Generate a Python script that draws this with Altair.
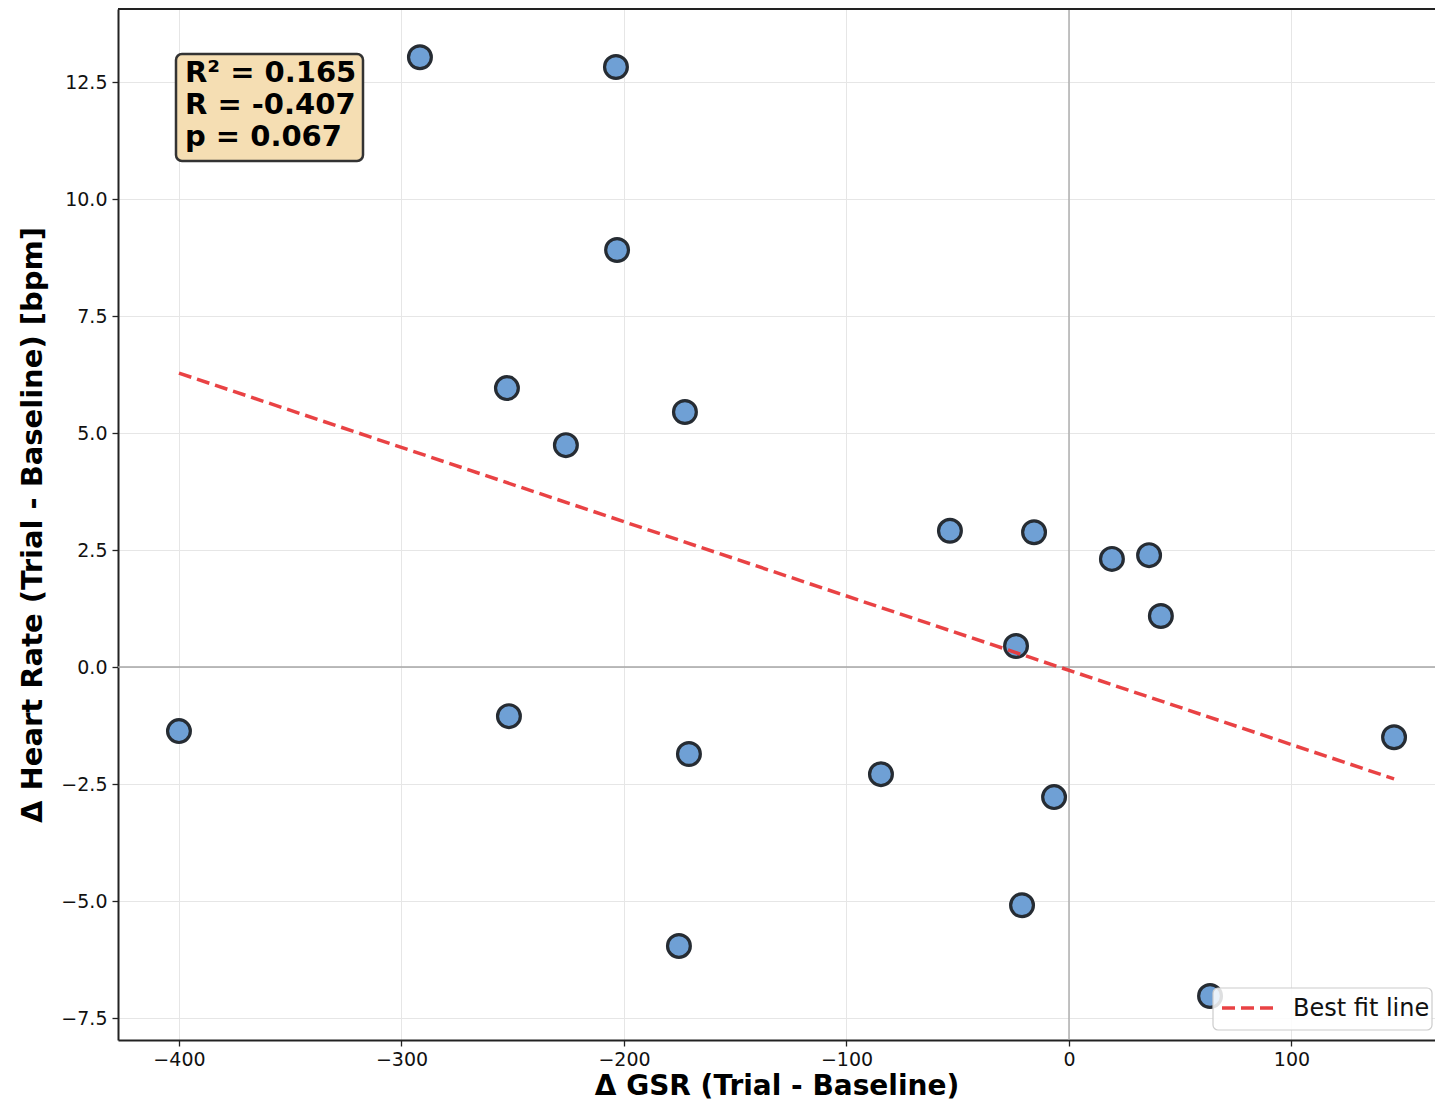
import altair as alt
import pandas as pd

# Data
gsr = [-400.0, -291.7, -203.6, -203.1, -252.6, -226.1, -172.6, -251.7, -170.8, -175.3,
       -84.5, -53.5, -15.7, -23.8, -6.7, -21.1, 19.3, 36.0, 41.3, 63.4, 146.1]
hr = [-1.37, 13.03, 12.82, 8.91, 5.96, 4.74, 5.45, -1.05, -1.86, -5.96,
      -2.29, 2.91, 2.88, 0.45, -2.78, -5.09, 2.31, 2.39, 1.09, -7.03, -1.50]
fit_x = [-400.0, 146.1]
fit_y = [6.28, -2.39]
legend_label = "Best fit line"
stats_lines = ["R² = 0.165", "R = -0.407", "p = 0.067"]
x_ticks = [-400, -300, -200, -100, 0, 100]
y_ticks = [-7.5, -5.0, -2.5, 0.0, 2.5, 5.0, 7.5, 10.0, 12.5]
x_title = "Δ GSR (Trial - Baseline)"
y_title = "Δ Heart Rate (Trial - Baseline) [bpm]"

W, H = 1317, 1031
X_DOM = [-427.4, 164.5]
Y_DOM = [-7.97, 14.06]
RED = "#e8383a"

pts = pd.DataFrame({"gsr": gsr, "hr": hr})
fit = pd.DataFrame({"gsr": fit_x, "hr": fit_y})

xs = alt.Scale(domain=X_DOM, nice=False, zero=False)
ys = alt.Scale(domain=Y_DOM, nice=False, zero=False)

base_x = alt.X("gsr:Q", scale=xs,
               axis=alt.Axis(values=x_ticks, title=x_title, format="d",
                             labelPadding=4, titlePadding=3, titleFontSize=28))
base_y = alt.Y("hr:Q", scale=ys,
               axis=alt.Axis(values=y_ticks, title=y_title, format=".1f",
                             labelPadding=5, titlePadding=13))

points = alt.Chart(pts).mark_point(
    filled=True, shape="circle", size=520, fill="#6fa0d5", fillOpacity=1,
    stroke="#262c33", strokeWidth=3.2, opacity=1
).encode(x=base_x, y=base_y)

zero_df = pd.DataFrame({"gsr": [0.0], "hr": [0.0]})
vzero = alt.Chart(zero_df).mark_rule(color="#a6a6a6", strokeWidth=1.3).encode(
    x=alt.X("gsr:Q", scale=xs))
hzero = alt.Chart(zero_df).mark_rule(color="#a6a6a6", strokeWidth=1.3).encode(
    y=alt.Y("hr:Q", scale=ys))

line = alt.Chart(fit).mark_line(
    color=RED, strokeWidth=3.5, strokeDash=[13, 6], opacity=0.95
).encode(x=alt.X("gsr:Q", scale=xs), y=alt.Y("hr:Q", scale=ys))

one = alt.Data(values=[{"a": 1}])
box = alt.Chart(one).mark_rect(
    fill="#f5deb3", stroke="#333333", strokeWidth=2.5, cornerRadius=6
).encode(x=alt.value(58), x2=alt.value(245), y=alt.value(45), y2=alt.value(152))
stats = alt.Chart(one).mark_text(
    text=stats_lines, align="left", baseline="top", font="DejaVu Sans",
    fontWeight="bold", fontSize=29, lineHeight=32, color="#000000"
).encode(x=alt.value(67), y=alt.value(50))

# legend box (bottom right)
leg_box = alt.Chart(one).mark_rect(
    fill="white", fillOpacity=0.85, stroke="#cccccc", strokeWidth=1.2, cornerRadius=5
).encode(x=alt.value(1095), x2=alt.value(1314), y=alt.value(979), y2=alt.value(1021))
leg_line = alt.Chart(one).mark_rule(
    color=RED, strokeWidth=3.5, strokeDash=[13, 6], opacity=0.95
).encode(x=alt.value(1104), x2=alt.value(1157), y=alt.value(999))
leg_text = alt.Chart(one).mark_text(
    text=legend_label, align="left", baseline="middle", font="DejaVu Sans",
    fontSize=24, color="#111111"
).encode(x=alt.value(1175), y=alt.value(1000))

top_spine = alt.Chart(one).mark_rule(color="#222222", strokeWidth=2).encode(
    x=alt.value(0), x2=alt.value(W), y=alt.value(0))

chart = alt.layer(vzero, hzero, points, line, box, stats, leg_box, leg_line, leg_text,
                  top_spine).properties(
    width=W, height=H,
    autosize=alt.AutoSizeParams(type="none"),
    padding={"left": 110, "top": 1, "right": 0, "bottom": 65},
).configure_view(strokeWidth=0).configure_axis(
    labelFont="DejaVu Sans", labelFontSize=19, labelColor="#111",
    titleFont="DejaVu Sans", titleFontWeight="bold", titleFontSize=29, titleColor="#000",
    tickColor="#222", tickSize=6, tickWidth=1.3,
    domainColor="#222", domainWidth=2,
    gridColor="#e6e6e6", gridWidth=1,
)

chart.save("out.html", embed_options={"renderer": "svg", "actions": False})
